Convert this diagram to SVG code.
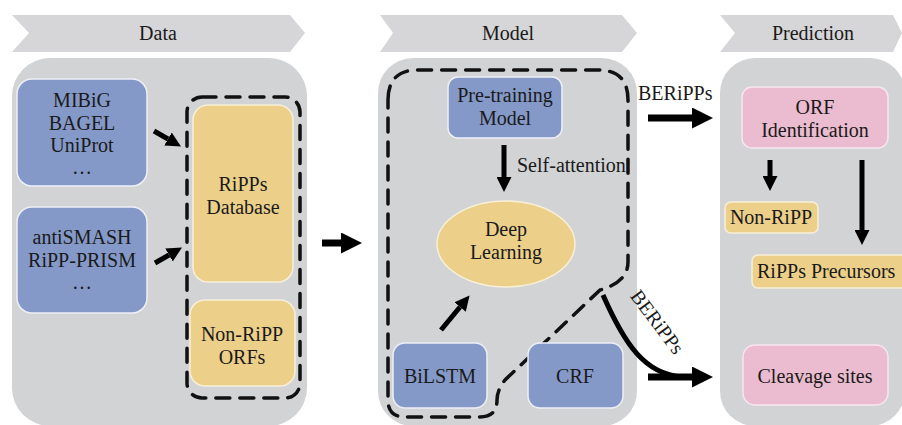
<svg xmlns="http://www.w3.org/2000/svg" width="902" height="425" viewBox="0 0 902 425">
<style>
text{font-family:"Liberation Serif","Times New Roman",serif;font-size:20px;fill:#1a1a1a}
.c{text-anchor:middle}
.banner{fill:#d6d6d8}
.panel{fill:#d2d3d5}
.blue{fill:#8499c8;stroke:#eef0f6;stroke-width:1.5}
.yel{fill:#ecd08a;stroke:#f7efd9;stroke-width:1.5}
.pink{fill:#ebbccf;stroke:#f7e6ee;stroke-width:1.5}
.dash{fill:none;stroke:#111;stroke-width:3.5;stroke-dasharray:14 10;stroke-linecap:round}
.arr{stroke:#000;fill:none;marker-end:url(#ah)}
</style>
<defs>
<marker id="ah" viewBox="0 0 10 10" refX="0" refY="5" markerWidth="3" markerHeight="3" orient="auto" markerUnits="strokeWidth">
<path d="M0,0 L10,5 L0,10 z" fill="#000"/>
</marker>
</defs>
<rect width="902" height="425" fill="#fff"/>

<g id="banner-data"><polygon class="banner" points="12,15 290,15 305,33 290,52 12,52 29,33"/><text class="c" x="158" y="40">Data</text></g>
<g id="banner-model"><polygon class="banner" points="380,15 622,15 637,33 622,52 380,52 393,33"/><text class="c" x="508" y="40">Model</text></g>
<g id="banner-prediction"><polygon class="banner" points="720,15 893,15 902,33 893,52 720,52 735,33"/><text class="c" x="813" y="40">Prediction</text></g>

<g id="panel-data"><rect class="panel" x="12" y="58" width="295" height="368" rx="38"/></g>
<g id="panel-model"><rect class="panel" x="378" y="58" width="259" height="368" rx="35"/></g>
<g id="panel-prediction"><rect class="panel" x="720" y="58" width="185" height="368" rx="35"/></g>

<g id="group-database"><rect class="dash" x="187" y="97" width="113" height="301" rx="15"/></g>
<g id="group-model"><path class="dash" d="M388,100 Q388,70 418,70 L598,70 Q628,70 628,100 L628,262 Q628,282 600,290 L505,380 Q497,390 497,400 Q497,417 480,417 L405,417 Q388,417 388,400 Z"/></g>

<g id="node-mibig"><rect class="blue" x="17" y="79" width="130" height="107" rx="15"/>
<text class="c" x="82" y="107">MIBiG</text><text class="c" x="82" y="129.5">BAGEL</text><text class="c" x="82" y="152">UniProt</text><text class="c" x="82" y="174">…</text></g>
<g id="node-antismash"><rect class="blue" x="17" y="207" width="130" height="106" rx="15"/>
<text class="c" x="82" y="244">antiSMASH</text><text class="c" x="82" y="266.5">RiPP-PRISM</text><text class="c" x="82" y="289">…</text></g>
<g id="node-ripps-db"><rect class="yel" x="193" y="105" width="100" height="177" rx="15"/>
<text class="c" x="243" y="191">RiPPs</text><text class="c" x="243" y="213.5">Database</text></g>
<g id="node-nonripp-orfs"><rect class="yel" x="190" y="300" width="105" height="86" rx="15"/>
<text class="c" x="242" y="341">Non-RiPP</text><text class="c" x="242" y="363.5">ORFs</text></g>

<g id="node-pretraining"><rect class="blue" x="448" y="77" width="114" height="61" rx="10"/>
<text class="c" x="505" y="102">Pre-training</text><text class="c" x="505" y="124.5">Model</text></g>
<g id="node-deep-learning"><ellipse cx="506" cy="244" rx="69" ry="43" fill="#ecd08a" stroke="#f7efd9" stroke-width="1.5"/>
<text class="c" x="506" y="236">Deep</text><text class="c" x="506" y="258.5">Learning</text></g>
<g id="node-bilstm"><rect class="blue" x="393" y="343" width="94" height="65" rx="12"/><text class="c" x="440" y="383">BiLSTM</text></g>
<g id="node-crf"><rect class="blue" x="528" y="343" width="95" height="65" rx="12"/><text class="c" x="575" y="383">CRF</text></g>

<g id="node-orf"><rect class="pink" x="742" y="87" width="146" height="61" rx="10"/>
<text class="c" x="815" y="114">ORF</text><text class="c" x="815" y="136.5">Identification</text></g>
<g id="node-nonripp"><rect class="yel" x="725" y="202" width="93" height="31" rx="6"/><text class="c" x="771" y="224">Non-RiPP</text></g>
<g id="node-precursors"><rect class="yel" x="752" y="255" width="160" height="33" rx="6"/><text x="757" y="278">RiPPs Precursors</text></g>
<g id="node-cleavage"><rect class="pink" x="743" y="345" width="145" height="60" rx="12"/><text class="c" x="815" y="383">Cleavage sites</text></g>

<g id="connectors">
<line class="arr" x1="154" y1="131" x2="168" y2="139" stroke-width="5"/>
<line class="arr" x1="155" y1="263" x2="169" y2="255" stroke-width="5"/>
<line class="arr" x1="322" y1="243" x2="341" y2="243" stroke-width="7"/>
<line class="arr" x1="504" y1="145" x2="504" y2="177" stroke-width="5"/>
<line class="arr" x1="441" y1="330" x2="460" y2="307" stroke-width="5"/>
<line class="arr" x1="648" y1="118" x2="692" y2="118" stroke-width="7"/>
<path d="M603,295 C625,345 645,374 682,377" fill="none" stroke="#000" stroke-width="5"/>
<line class="arr" x1="648" y1="377" x2="692" y2="377" stroke-width="7"/>
<line class="arr" x1="770" y1="160" x2="770" y2="176" stroke-width="5"/>
<line class="arr" x1="862" y1="160" x2="862" y2="230" stroke-width="5"/>
<text x="517" y="172">Self-attention</text>
<text x="638" y="100">BERiPPs</text>
<text class="c" transform="translate(652,326) rotate(53)" x="0" y="0">BERiPPs</text>
</g>
</svg>
